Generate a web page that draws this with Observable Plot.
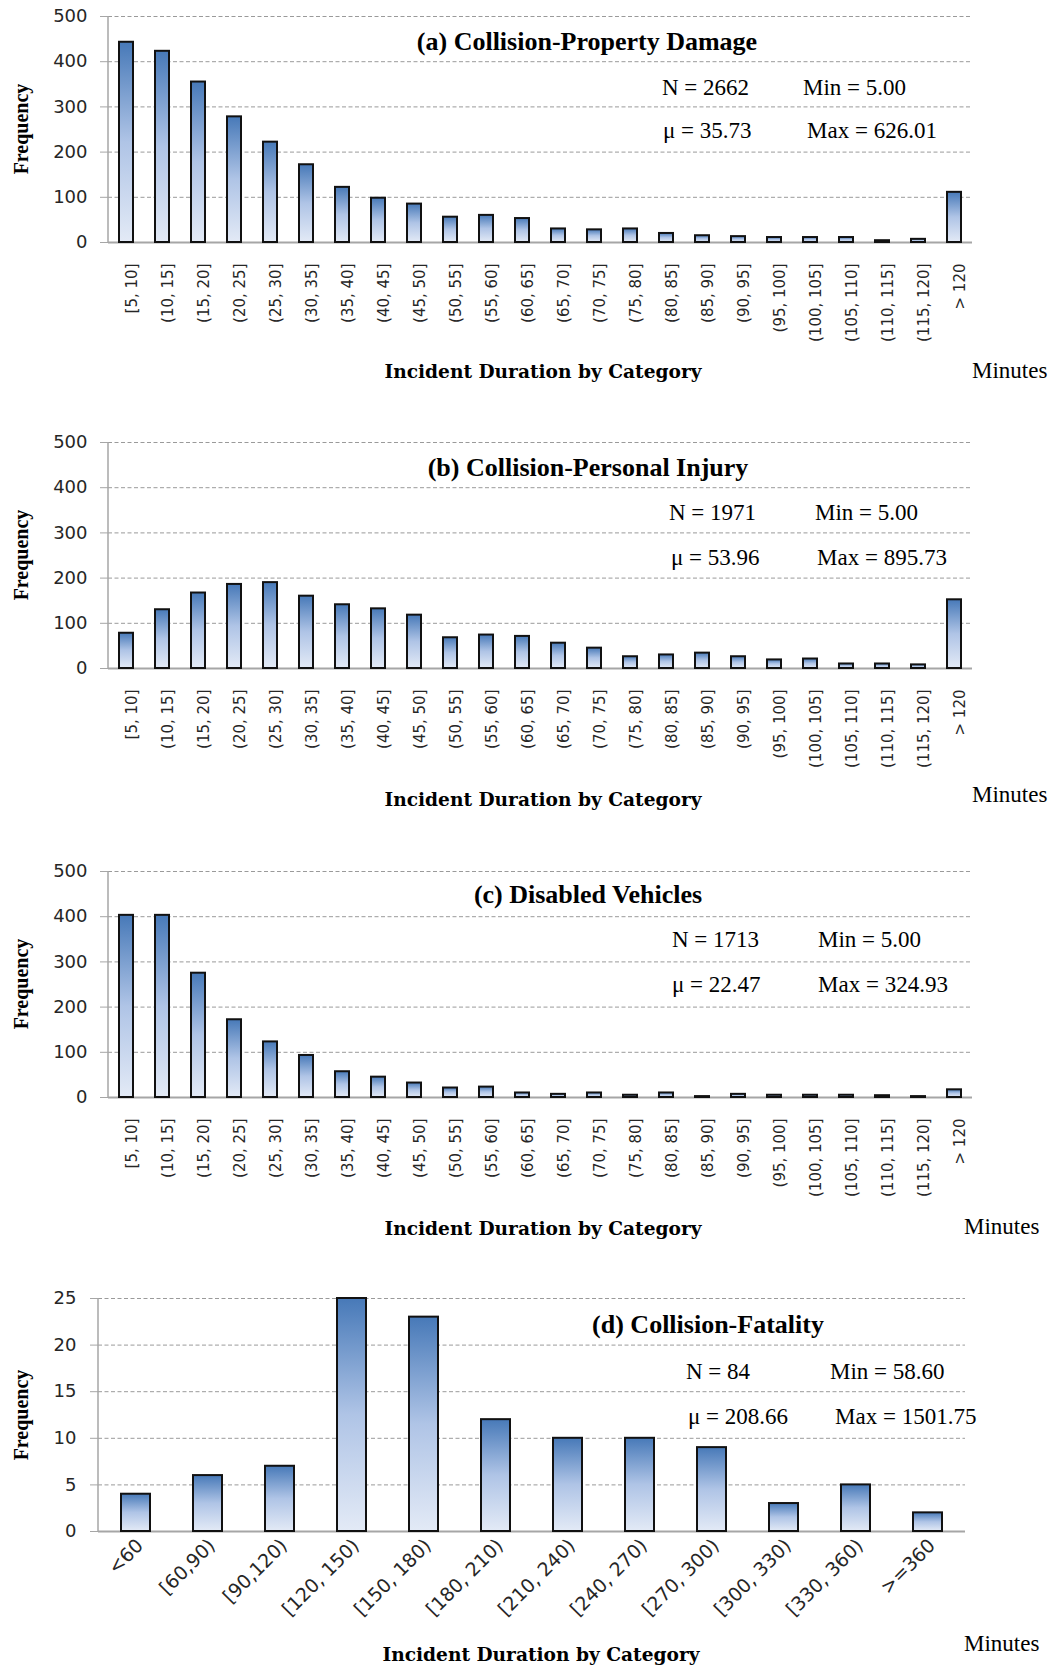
<!DOCTYPE html>
<html><head><meta charset="utf-8">
<script src="https://cdn.jsdelivr.net/npm/d3@7"></script>
<script src="https://cdn.jsdelivr.net/npm/@observablehq/plot@0.6"></script>
<style>
html,body{margin:0;padding:0;background:#fff;}
#page{position:relative;width:1059px;height:1665px;overflow:hidden;background:#fff;}
#page > svg{position:absolute;left:0;}
</style></head><body><div id="page"></div>
<script>
// ---------- data ----------
const catsFine = ["[5, 10]","(10, 15]","(15, 20]","(20, 25]","(25, 30]","(30, 35]","(35, 40]","(40, 45]","(45, 50]","(50, 55]","(55, 60]","(60, 65]","(65, 70]","(70, 75]","(75, 80]","(80, 85]","(85, 90]","(90, 95]","(95, 100]","(100, 105]","(105, 110]","(110, 115]","(115, 120]","> 120"];
const freqPropertyDamage = [443,423,355,278,222,172,122,98,85,56,60,53,30,28,30,20,15,13,11,11,11,4,7,111];
const freqPersonalInjury = [78,130,167,186,190,160,141,132,118,68,74,71,56,45,26,30,34,26,19,21,10,10,8,152];
const freqDisabled = [403,403,275,172,123,93,57,45,32,21,23,10,7,10,5,10,2,7,5,5,5,4,2,17];
const catsCoarse = ["<60","[60,90)","[90,120)","[120, 150)","[150, 180)","[180, 210)","[210, 240)","[240, 270)","[270, 300)","[300, 330)","[330, 360)",">=360"];
const freqFatality = [4,6,7,25,23,12,10,10,9,3,5,2];
const yTicks500 = [0,100,200,300,400,500];
const yTicks25 = [0,5,10,15,20,25];
const titles = ["(a) Collision-Property Damage","(b) Collision-Personal Injury","(c) Disabled Vehicles","(d) Collision-Fatality"];
const statN = ["N = 2662","N = 1971","N = 1713","N = 84"];
const statMin = ["Min = 5.00","Min = 5.00","Min = 5.00","Min = 58.60"];
const statMu = ["\u03bc = 35.73","\u03bc = 53.96","\u03bc = 22.47","\u03bc = 208.66"];
const statMax = ["Max = 626.01","Max = 895.73","Max = 324.93","Max = 1501.75"];
const yLabel = "Frequency";
const xLabel = "Incident Duration by Category";
const unitLabel = "Minutes";

// ---------- layout ----------
const W = 1059;
const layouts = [
  {top:0,    mL:108, mR:87, mT:16, pH:226, mB:100, rot:-90, tp:21, dx:6, fs:15, ytp:13,
   title:[587,50], n:[662,95], min:[803,95], mu:[663,138], max:[807,138], freqY:129, xt:[543,378], unit:[972,378]},
  {top:426,  mL:108, mR:87, mT:16, pH:226, mB:100, rot:-90, tp:21, dx:6, fs:15, ytp:13,
   title:[588,476], n:[669,520], min:[815,520], mu:[671,565], max:[817,565], freqY:555, xt:[543,806], unit:[972,802]},
  {top:855,  mL:108, mR:87, mT:16, pH:226, mB:100, rot:-90, tp:21, dx:6, fs:15, ytp:13,
   title:[588,903], n:[672,947], min:[818,947], mu:[672,992], max:[818,992], freqY:984, xt:[543,1235], unit:[964,1234]},
  {top:1282, mL:98,  mR:94, mT:16, pH:233, mB:90, rot:-45, tp:11, dx:4, fs:19, ytp:14,
   title:[708,1333], n:[686,1379], min:[830,1379], mu:[688,1424], max:[835,1424], freqY:1415, xt:[541,1661], unit:[964,1651]}
];
const series = [
  {cats: catsFine, freq: freqPropertyDamage, ticks: yTicks500, pi:0.625},
  {cats: catsFine, freq: freqPersonalInjury, ticks: yTicks500, pi:0.625},
  {cats: catsFine, freq: freqDisabled, ticks: yTicks500, pi:0.625},
  {cats: catsCoarse, freq: freqFatality, ticks: yTicks25, pi:0.6}
];

const page = document.getElementById("page");

series.forEach((s, i) => {
  const L = layouts[i];
  const gid = "barGrad" + i;
  const data = s.cats.map((c, k) => ({cat: c, v: s.freq[k]}));
  const defs = () => {
    const g = d3.create("svg:g");
    const lg = g.append("defs").append("linearGradient")
      .attr("id", gid).attr("x1", 0).attr("y1", 0).attr("x2", 0).attr("y2", 1);
    lg.append("stop").attr("offset", "0").attr("stop-color", "#4779b8");
    lg.append("stop").attr("offset", "0.5").attr("stop-color", "#afc4e6");
    lg.append("stop").attr("offset", "1").attr("stop-color", "#e3eaf6");
    return g.node();
  };
  const yAxisLine = (index, scales, values, dims) => {
    const g = d3.create("svg:g");
    g.append("line")
      .attr("x1", dims.marginLeft).attr("x2", dims.marginLeft)
      .attr("y1", dims.marginTop).attr("y2", dims.height - dims.marginBottom)
      .attr("stroke", "#a6a6a6").attr("stroke-width", 1.5);
    return g.node();
  };
  const chart = Plot.plot({
    width: W,
    height: L.mT + L.pH + L.mB,
    marginLeft: L.mL, marginRight: L.mR, marginTop: L.mT, marginBottom: L.mB,
    style: {fontFamily: "DejaVu Sans", fontSize: "15px", color: "#262626", background: "transparent", overflow: "visible"},
    x: {domain: s.cats, paddingInner: s.pi, paddingOuter: s.pi / 2, label: null},
    y: {domain: [0, s.ticks[s.ticks.length - 1]], label: null},
    marks: [
      defs,
      Plot.gridY({ticks: s.ticks.filter(d => d > 0), stroke: "#9a9a9a", strokeOpacity: 1, strokeWidth: 1, strokeDasharray: "4,2.5"}),
      yAxisLine,
      Plot.axisY({ticks: s.ticks, tickSize: 8, tickPadding: L.ytp, stroke: "#a6a6a6", fill: "#262626", fontSize: 18, tickFormat: d => String(d), label: null}),
      Plot.axisX({tickSize: 0, tickRotate: L.rot, tickPadding: L.tp, dx: L.dx, fill: "#262626", fontSize: L.fs, label: null}),
      Plot.ruleY([0], {stroke: "#a6a6a6", strokeWidth: 2}),
      Plot.barY(data, {x: "cat", y: "v", fill: `url(#${gid})`, stroke: "#111", strokeWidth: 2})
    ]
  });
  chart.style.top = L.top + "px";
  page.appendChild(chart);
});

// ---------- annotation texts ----------
const ov = d3.select(page).append("svg")
  .attr("width", W).attr("height", 1665)
  .style("position", "absolute").style("left", "0px").style("top", "0px").style("pointer-events", "none");

layouts.forEach((L, i) => {
  ov.append("text").attr("x", L.title[0]).attr("y", L.title[1]).attr("text-anchor", "middle")
    .attr("font-family", "Liberation Serif").attr("font-weight", "bold").attr("font-size", 26).attr("fill", "#000").text(titles[i]);
  [[L.n, statN[i]], [L.min, statMin[i]], [L.mu, statMu[i]], [L.max, statMax[i]]].forEach(([p, t]) => {
    ov.append("text").attr("x", p[0]).attr("y", p[1])
      .attr("font-family", "Liberation Serif").attr("font-size", 23).attr("fill", "#000").text(t);
  });
  ov.append("text").attr("transform", `translate(21,${L.freqY}) rotate(-90)`)
    .attr("text-anchor", "middle").attr("dominant-baseline", "central")
    .attr("font-family", "Liberation Serif").attr("font-weight", "bold").attr("font-size", 20).attr("fill", "#000").text(yLabel);
  ov.append("text").attr("x", L.xt[0]).attr("y", L.xt[1]).attr("text-anchor", "middle")
    .attr("font-family", "DejaVu Serif").attr("font-weight", "bold").attr("font-size", 18.6).attr("fill", "#000").text(xLabel);
  ov.append("text").attr("x", L.unit[0]).attr("y", L.unit[1])
    .attr("font-family", "Liberation Serif").attr("font-size", 23).attr("fill", "#000").text(unitLabel);
});
</script>
</body></html>
